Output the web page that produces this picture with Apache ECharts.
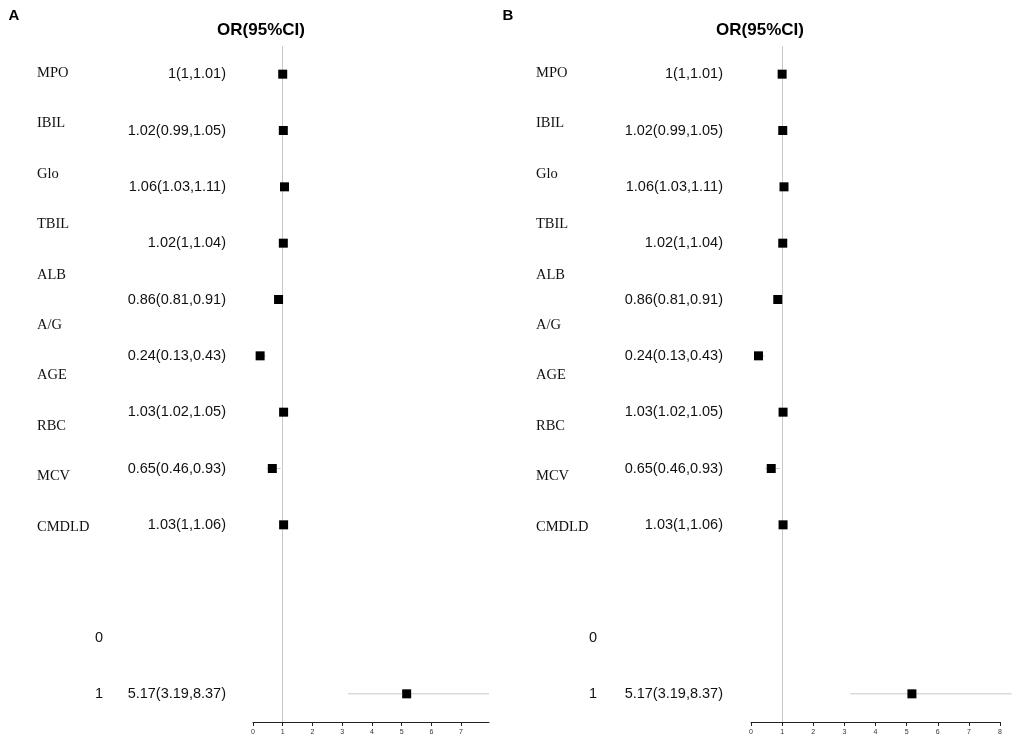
<!DOCTYPE html>
<html>
<head>
<meta charset="utf-8">
<script src="https://cdn.jsdelivr.net/npm/echarts@6/dist/echarts.min.js"></script>
<style>
  html, body { margin: 0; padding: 0; background: #fff; }
  #main { width: 1021px; height: 747px; }
</style>
</head>
<body>
<div id="main"></div>
<script>
// variable names (left column, own spacing)
const varNames = ["MPO", "IBIL", "Glo", "TBIL", "ALB", "A/G", "AGE", "RBC", "MCV", "CMDLD"];

// forest rows: OR, lower, upper (null = no estimate)
const orText = [
  "1(1,1.01)", "1.02(0.99,1.05)", "1.06(1.03,1.11)", "1.02(1,1.04)",
  "0.86(0.81,0.91)", "0.24(0.13,0.43)", "1.03(1.02,1.05)", "0.65(0.46,0.93)",
  "1.03(1,1.06)", "", "", "5.17(3.19,8.37)",
];
const orValue = [1, 1.02, 1.06, 1.02, 0.86, 0.24, 1.03, 0.65, 1.03, null, null, 5.17];
const ciLower = [1, 0.99, 1.03, 1, 0.81, 0.13, 1.02, 0.46, 1, null, null, 3.19];
const ciUpper = [1.01, 1.05, 1.11, 1.04, 0.91, 0.43, 1.05, 0.93, 1.06, null, null, 8.37];
const groupText = ["", "", "", "", "", "", "", "", "", "", "0", "1"];

// x axis ticks
const ticksA = [0, 1, 2, 3, 4, 5, 6, 7];
const ticksB = [0, 1, 2, 3, 4, 5, 6, 7, 8];

const rowIds = orText.map((_, i) => String(i));
const sansFont = "'Liberation Sans', Arial, sans-serif";
const serifFont = "'Liberation Serif', 'Times New Roman', serif";

const panels = [
  { letter: "A", letterX: 14, titleX: 261, nameLeft: 37, plotLeft: 253, plotWidth: 236, max: 7.94, ticks: ticksA, valueRight: 226, groupX: 95, clip: true },
  { letter: "B", letterX: 508, titleX: 760, nameLeft: 536, plotLeft: 751, plotWidth: 249, max: 8, ticks: ticksB, valueRight: 723, groupX: 589, clip: false },
];

const chartDom = document.getElementById("main");
const myChart = echarts.init(chartDom);

const grid = [];
const xAxis = [];
const yAxis = [];
const series = [];
const graphic = [];

panels.forEach((p, k) => {
  // plot grid
  grid.push({ left: p.plotLeft, top: 46, width: p.plotWidth, height: 676, outerBoundsMode: "none", containLabel: false });
  // names grid
  grid.push({ left: p.nameLeft, top: 48, width: 10, height: 504, outerBoundsMode: "none", containLabel: false });

  const plotGrid = k * 2;
  const nameGrid = k * 2 + 1;

  xAxis.push({
    type: "value",
    gridIndex: plotGrid,
    min: 0,
    max: p.max,
    splitLine: { show: false },
    axisLine: { show: true, lineStyle: { color: "#222", width: 1 } },
    axisTick: { show: true, length: 4, customValues: p.ticks, lineStyle: { color: "#222" } },
    axisLabel: { customValues: p.ticks, fontSize: 7, color: "#333", margin: 7, fontFamily: sansFont },
  });
  xAxis.push({ type: "value", gridIndex: nameGrid, min: 0, max: 1, show: false });

  // OR text column
  yAxis.push({
    type: "category",
    gridIndex: plotGrid,
    position: "left",
    inverse: true,
    data: rowIds,
    axisLine: { show: false },
    axisTick: { show: false },
    axisLabel: {
      margin: p.plotLeft - p.valueRight,
      fontSize: 14.5,
      color: "#111",
      fontFamily: sansFont,
      formatter: (v, i) => orText[i],
    },
  });
  // group column (0 / 1)
  yAxis.push({
    type: "category",
    gridIndex: plotGrid,
    position: "left",
    inverse: true,
    data: rowIds,
    axisLine: { show: false },
    axisTick: { show: false },
    axisLabel: {
      align: "left",
      margin: p.plotLeft - p.groupX,
      fontSize: 14.5,
      color: "#111",
      fontFamily: sansFont,
      formatter: (v, i) => groupText[i],
    },
  });
  // variable names
  yAxis.push({
    type: "category",
    gridIndex: nameGrid,
    position: "left",
    inverse: true,
    data: varNames,
    axisLine: { show: false },
    axisTick: { show: false },
    axisLabel: { align: "left", margin: 0, fontSize: 14.5, color: "#111", fontFamily: serifFont },
  });

  const yMain = k * 3;

  // confidence intervals
  series.push({
    type: "custom",
    xAxisIndex: plotGrid,
    yAxisIndex: yMain,
    clip: p.clip,
    silent: true,
    data: orValue
      .map((v, i) => (v === null ? null : [ciLower[i], ciUpper[i], i]))
      .filter((d) => d !== null),
    renderItem: function (params, api) {
      const a = api.coord([api.value(0), api.value(2)]);
      const b = api.coord([api.value(1), api.value(2)]);
      return {
        type: "line",
        shape: { x1: a[0], y1: a[1], x2: b[0], y2: b[1] },
        style: { stroke: "#c8c8c8", lineWidth: 1 },
      };
    },
    encode: { x: [0, 1], y: 2 },
    z: 2,
  });

  // point estimates + reference line at OR = 1
  series.push({
    type: "scatter",
    xAxisIndex: plotGrid,
    yAxisIndex: yMain,
    symbol: "rect",
    symbolSize: 9,
    itemStyle: { color: "#000", opacity: 1 },
    silent: true,
    data: orValue
      .map((v, i) => (v === null ? null : [v, i]))
      .filter((d) => d !== null),
    markLine: {
      silent: true,
      symbol: "none",
      z: 1,
      label: { show: false },
      lineStyle: { color: "#c8c8c8", type: "solid", width: 1 },
      data: [{ xAxis: 1 }],
    },
    z: 10,
  });

  graphic.push({
    type: "text",
    x: p.letterX,
    y: 16,
    style: { text: p.letter, font: "bold 15px " + sansFont, fill: "#000", textAlign: "center", textVerticalAlign: "middle" },
  });
  graphic.push({
    type: "text",
    x: p.titleX,
    y: 30,
    style: { text: "OR(95%CI)", font: "bold 17px " + sansFont, fill: "#000", textAlign: "center", textVerticalAlign: "middle" },
  });
});

const option = {
  animation: false,
  backgroundColor: "#fff",
  grid: grid,
  xAxis: xAxis,
  yAxis: yAxis,
  series: series,
  graphic: graphic,
};
myChart.setOption(option);
</script>
</body>
</html>
